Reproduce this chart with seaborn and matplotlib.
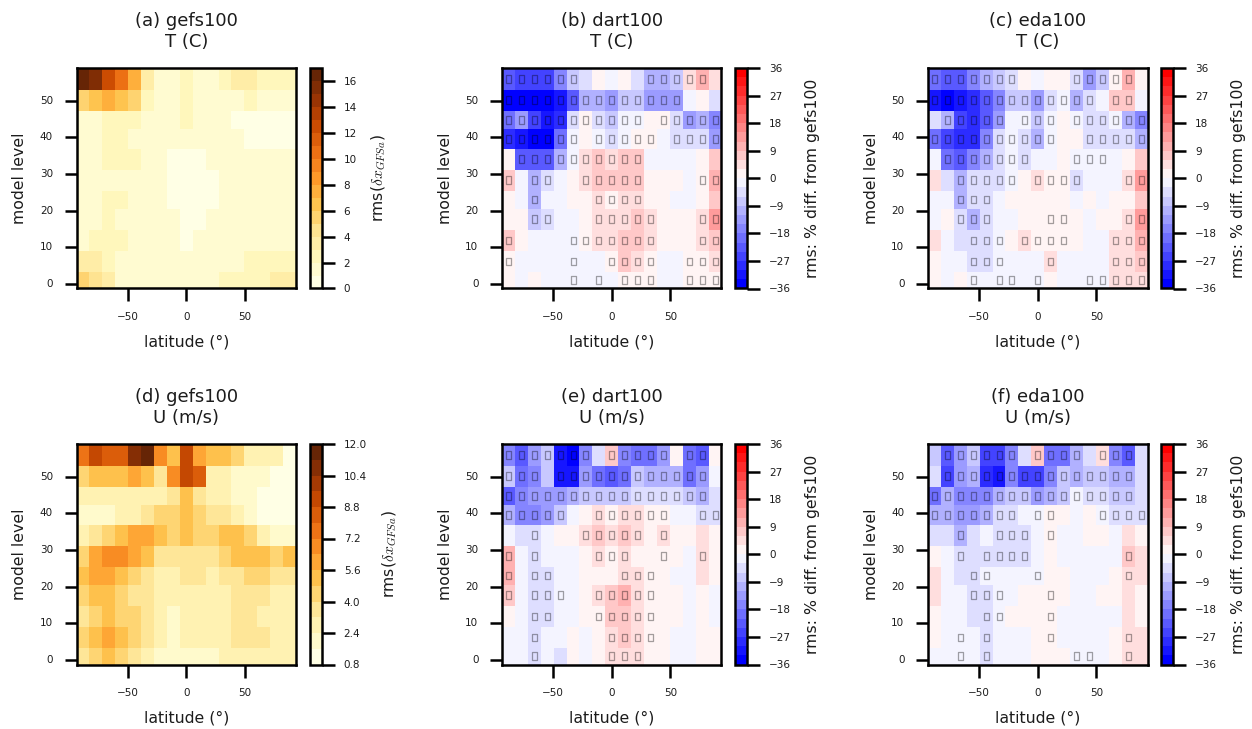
import numpy as np
import pandas as pd
import matplotlib
matplotlib.use("Agg")
import matplotlib.pyplot as plt
from matplotlib.path import Path
import seaborn as sns

sns.set_theme(style="ticks", context="notebook")
plt.rcParams.update({"mathtext.fontset": "cm", "font.family": "DejaVu Sans"})

# rows are listed from the top of the panel (highest model level) to the bottom
a_vals = [
 [16.5,15.5,12.5,10.5,7.5,3.5,1.5,1.5,2.5,1.5,1.5,2.5,3.5,3.5,2.5,2.5,2.5],
 [5.5,6.5,7.5,6.5,5.5,2.5,1.5,1.5,2.5,1.5,1.5,1.5,1.5,2.5,1.5,1.5,1.5],
 [1.5,1.5,2.5,2.5,2.5,1.5,1.5,1.5,2.5,1.5,1.5,1.5,0.5,0.5,0.5,0.5,0.5],
 [1.5,1.5,2.5,2.5,1.5,1.5,1.5,1.5,1.5,1.5,1.5,1.5,1.5,0.5,0.5,0.5,0.5],
 [1.5,1.5,2.5,2.5,2.5,1.5,1.5,0.5,0.5,0.5,1.5,1.5,1.5,1.5,1.5,1.5,1.5],
 [1.5,1.5,1.5,1.5,1.5,1.5,1.5,0.5,0.5,0.5,0.5,1.5,1.5,1.5,1.5,1.5,1.5],
 [1.5,1.5,2.5,2.5,1.5,1.5,1.5,0.5,0.5,0.5,0.5,1.5,1.5,1.5,1.5,1.5,1.5],
 [1.5,1.5,2.5,1.5,1.5,1.5,1.5,1.5,0.5,0.5,1.5,1.5,1.5,1.5,1.5,1.5,1.5],
 [1.5,2.5,2.5,2.5,1.5,1.5,1.5,1.5,0.5,1.5,1.5,1.5,1.5,1.5,1.5,1.5,1.5],
 [3.5,3.2,2.5,1.5,1.5,1.5,1.5,1.5,1.5,1.5,1.5,1.5,1.5,2.5,2.5,2.5,2.5],
 [5.5,4.5,3.2,1.5,1.5,1.5,1.5,1.5,1.5,1.5,1.5,2.5,2.5,2.5,2.5,3.2,3.2],
]
d_vals = [
 [7.6,9.2,8.4,8.4,10.8,11.6,7.0,5.2,9.2,6.0,5.2,5.2,4.4,2.8,2.8,2.8,1.2],
 [4.4,5.2,5.2,5.2,6.0,5.2,3.6,6.8,9.2,8.4,2.8,2.8,2.0,2.0,2.0,1.2,1.2],
 [2.8,2.8,2.8,2.8,2.8,2.8,2.8,3.6,5.2,3.6,2.8,2.8,2.0,2.0,1.2,1.2,1.2],
 [2.0,2.0,2.0,2.8,2.8,3.6,4.4,4.4,5.2,4.4,3.6,3.6,2.8,2.0,1.2,1.2,1.2],
 [2.8,3.6,4.4,5.2,6.0,6.0,5.2,4.4,5.2,4.4,4.4,5.2,5.2,4.4,2.8,2.0,2.0],
 [4.4,6.0,6.8,6.8,6.0,5.2,3.6,3.6,3.6,3.6,3.6,4.4,5.2,5.2,5.2,4.4,5.2],
 [5.2,6.0,6.0,5.2,4.4,3.6,2.8,2.8,3.6,3.6,2.8,3.6,3.6,4.4,4.4,3.6,3.6],
 [4.4,5.2,5.2,4.4,3.6,3.6,2.8,2.8,2.8,2.8,2.8,2.8,3.6,3.6,3.6,2.8,2.8],
 [3.6,4.4,5.2,4.4,4.4,3.6,2.8,2.0,2.8,2.8,2.8,2.8,3.6,3.6,2.8,2.8,2.8],
 [4.4,5.2,6.0,5.2,4.4,3.6,2.8,2.0,2.8,2.8,2.8,2.8,3.6,3.6,3.6,2.8,2.8],
 [3.6,4.4,5.2,4.4,3.6,2.8,2.0,2.0,2.0,2.0,2.0,2.8,2.8,2.8,2.8,2.8,2.8],
]
b_vals = [
 [-22.5,-25.5,-25.5,-25.5,-16.5,-7.5,-4.5,1.5,-1.5,1.5,-4.5,-10.5,-10.5,-7.5,4.5,10.5,4.5],
 [-34.5,-34.5,-34.5,-34.5,-31.5,-22.5,-10.5,-10.5,-13.5,-7.5,-7.5,-13.5,-13.5,-13.5,-1.5,1.5,-4.5],
 [-19.5,-13.5,-25.5,-31.5,-28.5,-4.5,1.5,-4.5,-7.5,-1.5,-1.5,1.5,1.5,-4.5,-13.5,-10.5,-16.5],
 [-28.5,-31.5,-34.5,-34.5,-19.5,-1.5,1.5,-1.5,-4.5,-1.5,1.5,1.5,-1.5,-4.5,-4.5,-4.5,-13.5],
 [1.5,-22.5,-22.5,-22.5,-10.5,-1.5,4.5,7.5,4.5,7.5,7.5,-1.5,-1.5,-1.5,-1.5,1.5,7.5],
 [7.5,-1.5,-10.5,-4.5,-1.5,1.5,4.5,7.5,7.5,7.5,7.5,1.5,1.5,1.5,-1.5,1.5,10.5],
 [1.5,-1.5,-10.5,-1.5,-1.5,1.5,1.5,4.5,1.5,4.5,4.5,1.5,1.5,-1.5,-1.5,1.5,7.5],
 [1.5,1.5,-7.5,-4.5,-1.5,-1.5,1.5,4.5,4.5,4.5,7.5,4.5,1.5,1.5,1.5,4.5,13.5],
 [7.5,1.5,-1.5,-1.5,-1.5,-1.5,1.5,4.5,4.5,7.5,7.5,4.5,1.5,1.5,1.5,4.5,7.5],
 [1.5,-1.5,-1.5,-1.5,-1.5,-1.5,-1.5,-1.5,1.5,7.5,4.5,1.5,-1.5,-1.5,1.5,1.5,4.5],
 [1.5,-1.5,1.5,-1.5,-1.5,-1.5,-1.5,-1.5,-1.5,1.5,1.5,1.5,-1.5,-1.5,1.5,1.5,1.5],
]
c_vals = [
 [-19.5,-22.5,-22.5,-16.5,-10.5,-7.5,-4.5,1.5,-1.5,1.5,1.5,-4.5,-13.5,-7.5,1.5,10.5,1.5],
 [-31.5,-34.5,-31.5,-28.5,-22.5,-16.5,-7.5,-7.5,-13.5,-4.5,-1.5,-10.5,-4.5,-1.5,7.5,7.5,-1.5],
 [-4.5,-10.5,-25.5,-28.5,-22.5,-13.5,-1.5,-1.5,-7.5,-1.5,1.5,-1.5,-4.5,-4.5,-1.5,-10.5,-16.5],
 [-19.5,-25.5,-28.5,-28.5,-16.5,-4.5,-1.5,-4.5,-10.5,-1.5,1.5,1.5,-4.5,-4.5,-4.5,-4.5,-10.5],
 [-1.5,-19.5,-22.5,-16.5,-10.5,-4.5,-1.5,-4.5,-1.5,-1.5,1.5,-1.5,-1.5,-1.5,-1.5,1.5,7.5],
 [4.5,-4.5,-10.5,-4.5,-4.5,-4.5,-1.5,1.5,4.5,1.5,1.5,-4.5,-1.5,-1.5,-1.5,4.5,13.5],
 [-1.5,-1.5,-10.5,-4.5,-4.5,-1.5,1.5,1.5,1.5,1.5,1.5,-1.5,1.5,-1.5,1.5,1.5,7.5],
 [-1.5,1.5,-4.5,-10.5,-4.5,-1.5,-1.5,1.5,1.5,1.5,1.5,1.5,-1.5,1.5,1.5,4.5,13.5],
 [4.5,-1.5,-4.5,-4.5,-4.5,-1.5,1.5,4.5,1.5,1.5,1.5,1.5,-1.5,-1.5,4.5,4.5,10.5],
 [1.5,-1.5,-1.5,-4.5,-4.5,-1.5,-1.5,-1.5,-1.5,4.5,-1.5,-1.5,-1.5,-1.5,4.5,4.5,7.5],
 [1.5,-1.5,1.5,-1.5,-1.5,-1.5,-1.5,-1.5,-1.5,1.5,-1.5,-1.5,-1.5,-1.5,4.5,4.5,4.5],
]
e_vals = [
 [-16.5,-22.5,-13.5,-7.5,-31.5,-34.5,-16.5,-4.5,7.5,-16.5,-19.5,-19.5,-13.5,1.5,-19.5,-22.5,1.5],
 [-7.5,-19.5,-16.5,-7.5,-31.5,-31.5,-13.5,-19.5,-22.5,-19.5,-7.5,-10.5,-10.5,-10.5,-19.5,-13.5,-1.5],
 [-22.5,-16.5,-13.5,-13.5,-13.5,-10.5,-7.5,-7.5,-7.5,-7.5,-4.5,-4.5,-4.5,-4.5,-7.5,-10.5,-4.5],
 [-10.5,-16.5,-16.5,-13.5,-7.5,-1.5,1.5,4.5,1.5,4.5,4.5,1.5,1.5,-1.5,-1.5,-4.5,-4.5],
 [-1.5,-4.5,-4.5,-1.5,1.5,1.5,4.5,7.5,4.5,7.5,4.5,1.5,4.5,1.5,1.5,4.5,1.5],
 [10.5,-1.5,-4.5,-1.5,-1.5,-1.5,1.5,4.5,1.5,4.5,1.5,1.5,1.5,1.5,-1.5,4.5,1.5],
 [10.5,-1.5,-4.5,-4.5,-1.5,-1.5,1.5,1.5,1.5,4.5,4.5,1.5,1.5,-1.5,-1.5,4.5,1.5],
 [7.5,-1.5,-4.5,-4.5,-1.5,-1.5,1.5,4.5,7.5,10.5,4.5,1.5,1.5,1.5,-1.5,1.5,-1.5],
 [1.5,-1.5,-4.5,-4.5,-1.5,-1.5,1.5,1.5,7.5,7.5,4.5,1.5,1.5,1.5,-1.5,1.5,-1.5],
 [-1.5,-1.5,-4.5,-1.5,-1.5,1.5,-1.5,1.5,4.5,7.5,4.5,1.5,1.5,-1.5,-1.5,1.5,1.5],
 [-1.5,-1.5,-4.5,-1.5,-4.5,1.5,-1.5,1.5,4.5,4.5,4.5,1.5,1.5,-1.5,-1.5,1.5,1.5],
]
f_vals = [
 [-7.5,-22.5,-13.5,-7.5,-25.5,-25.5,-16.5,-4.5,7.5,-19.5,-19.5,-10.5,-4.5,4.5,-16.5,-22.5,-4.5],
 [-4.5,-25.5,-13.5,-10.5,-28.5,-31.5,-16.5,-25.5,-25.5,-16.5,-7.5,-10.5,-7.5,-7.5,-10.5,-10.5,-4.5],
 [-19.5,-10.5,-16.5,-16.5,-16.5,-10.5,-7.5,-7.5,-13.5,-10.5,-7.5,-1.5,-4.5,-4.5,-7.5,-7.5,-4.5],
 [-10.5,-10.5,-13.5,-13.5,-10.5,-4.5,-4.5,-1.5,-1.5,1.5,1.5,-1.5,1.5,-1.5,-4.5,-4.5,-4.5],
 [-4.5,-4.5,-10.5,-4.5,-1.5,-4.5,-4.5,-4.5,-1.5,1.5,-1.5,-1.5,1.5,1.5,-1.5,4.5,1.5],
 [1.5,-1.5,-4.5,-4.5,-4.5,-4.5,-4.5,-4.5,-1.5,1.5,-1.5,-1.5,-1.5,-1.5,-1.5,7.5,4.5],
 [4.5,-1.5,-4.5,-4.5,-1.5,-1.5,-1.5,-1.5,-1.5,1.5,1.5,-1.5,-1.5,-1.5,1.5,4.5,4.5],
 [4.5,-1.5,-1.5,-4.5,-4.5,-1.5,-1.5,1.5,1.5,1.5,1.5,-1.5,-1.5,1.5,1.5,4.5,1.5],
 [1.5,-1.5,-1.5,-4.5,-4.5,-1.5,1.5,1.5,1.5,1.5,-1.5,-1.5,-1.5,-1.5,-1.5,4.5,1.5],
 [1.5,-1.5,-1.5,-1.5,-4.5,-1.5,-1.5,-1.5,1.5,1.5,-1.5,-1.5,-1.5,-1.5,1.5,4.5,4.5],
 [-1.5,-1.5,-1.5,-1.5,-4.5,-1.5,-1.5,-1.5,1.5,1.5,1.5,-1.5,-1.5,-1.5,1.5,4.5,4.5],
]

# column indices of the significance boxes in each row, top row first
b_sig = [[0,1,2,3,4,5,11,12,13,14,15],
         [0,1,2,3,4,5,6,7,8,9,10,11,12,13],
         [0,1,2,3,4,5,6,7,8,9,10,12,13,14,15,16],
         [0,1,2,3,4,5,7,8,9,10,11,13,14,15,16],
         [1,2,3,4,5,6,7,8,9,10],
         [0,2,3,6,7,8,9,10,15,16],
         [2,7,8,9,10],
         [2,3,7,8,9,10,11,15,16],
         [0,5,6,7,8,9,10,11,15,16],
         [0,5,8,9,10,11,14,15,16],
         [5,7,9,10,11,14,15,16]]
c_sig = [[0,1,2,3,4,5,6,11,12,13,14,15],
         [0,1,2,3,4,5,6,7,8,9,10,11,12,14,15],
         [1,2,3,4,5,7,8,9,11,12,13,14,15,16],
         [0,1,2,3,4,5,6,7,8,9,12,13,14,15,16],
         [1,2,3,4,5,6,7,11,12,13],
         [2,3,4,5,6,8,9,10,11,15,16],
         [2,3,4],
         [2,3,4,9,10,15,16],
         [3,4,5,7,8,9,10,14,15,16],
         [3,4,5,9,14,15,16],
         [3,5,6,8,12,13,14,15,16]]
e_sig = [[0,1,2,3,4,5,6,8,9,10,11,12,14,15],
         [0,1,2,4,5,6,7,8,9,10,11,12,13,14,15],
         [0,1,2,3,4,5,6,7,8,9,10,11,12,13,14,15],
         [0,1,2,3,4,7,8,9,10,11,12,15,16],
         [2,6,7,8,9,10,12],
         [0,2,7,8,9,12,15],
         [0,2,3,9,10,11],
         [0,2,3,4,7,8,9,10,11],
         [2,3,7,8,9,10,11],
         [2,8,9,10,11],
         [2,8,9,10]]
f_sig = [[1,2,3,4,5,6,8,9,10,11,13,14,15],
         [1,2,3,4,5,6,7,8,9,10,11,12,13,14,15],
         [0,1,2,3,4,5,6,7,8,9,10,11,12,13,14,15],
         [0,1,2,3,4,5,6,8,9,13,14,15,16],
         [2,5,6,7,9],
         [2,4,5,6,7,15],
         [3,4,8,15],
         [3,4,5,9],
         [4,5,9],
         [2,4,9,15],
         [2,4,11,12,15]]

titles = ["(a) gefs100\nT (C)", "(b) dart100\nT (C)", "(c) eda100\nT (C)",
          "(d) gefs100\nU (m/s)", "(e) dart100\nU (m/s)", "(f) eda100\nU (m/s)"]
lat_edge_limit = 93.5
lat_ticks = [-50, 0, 50]
lev_ticks = [0, 10, 20, 30, 40, 50]
lev_edges = [-1.2, 3.4, 9.0, 14.8, 20.6, 25.5, 31.2, 36.9, 42.3, 47.3, 53.0, 58.9]
a_ticks = [0, 2, 4, 6, 8, 10, 12, 14, 16]
d_ticks = [0.8, 2.4, 4.0, 5.6, 7.2, 8.8, 10.4, 12.0]
diff_ticks = [-36, -27, -18, -9, 0, 9, 18, 27, 36]
diff_label = "rms: % diff. from gefs100"
spread_label = r"rms($\delta x_{GFSa}$)"

W, H = 1252, 729
fig = plt.figure(figsize=(W / 100, H / 100), dpi=100, facecolor="white")

yellow17 = plt.get_cmap("YlOrBr", 17)
yellow14 = plt.get_cmap("YlOrBr", 14)
bwr24 = plt.get_cmap("bwr", 24)
box = Path([(-0.33, -0.5), (0.33, -0.5), (0.33, 0.5), (-0.33, 0.5), (-0.33, -0.5)], closed=True)

idx = np.arange(len(lev_edges), dtype=float)
to_lev = lambda v: np.interp(v, idx, lev_edges)
to_idx = lambda v: np.interp(v, lev_edges, idx)
INK = "#1c1c1c"


def panel(left, top, vals, sig, title, cmap, vmin, vmax, cticks, clabel, lpad):
    ax = fig.add_axes([left / W, 1 - (top + 220.5) / H, 219.5 / W, 220.5 / H])
    cax = fig.add_axes([(left + 233) / W, 1 - (top + 220.5) / H, 12 / W, 220.5 / H])
    df = pd.DataFrame(np.array(vals)[::-1])
    sns.heatmap(df, ax=ax, cbar_ax=cax, cmap=cmap, vmin=vmin, vmax=vmax)
    ax.set_yscale("function", functions=(to_lev, to_idx))
    ax.set_ylim(0, len(vals))
    ax.set_xlim(0, len(vals[0]))
    ax.set_xticks([(t + lat_edge_limit) / 11 for t in lat_ticks])
    ax.set_xticklabels(["\u221250", "0", "50"], rotation=0)
    ax.set_yticks(to_idx(np.array(lev_ticks, dtype=float)))
    ax.set_yticklabels([str(t) for t in lev_ticks], rotation=0)
    ax.minorticks_off()
    ax.tick_params(axis="both", which="major", length=9, width=1.8, labelsize=7.5,
                   color="black", labelcolor=INK, pad=8, left=True, bottom=True)
    for s in ax.spines.values():
        s.set_visible(True)
        s.set_linewidth(1.8)
        s.set_color("black")
    ax.set_xlabel("latitude (\u00b0)", fontsize=11.3, labelpad=9, color=INK)
    ax.set_ylabel("model level", fontsize=11.3, labelpad=9, color=INK)
    ax.set_title(title, fontsize=13, pad=15, color=INK)
    if sig is not None:
        n = len(sig)
        xs = [c + 0.5 for r, row in enumerate(sig) for c in row]
        ys = [n - r - 0.5 for r, row in enumerate(sig) for c in row]
        ax.scatter(xs, ys, marker=box, s=30, facecolors="none",
                   edgecolors=(0, 0, 0, 0.36), linewidths=0.9, zorder=5)
    cb = ax.collections[0].colorbar
    cb.outline.set_visible(True)
    cb.outline.set_linewidth(1.8)
    cb.outline.set_edgecolor("black")
    cb.set_ticks(cticks)
    if cticks is d_ticks:
        cb.set_ticklabels([f"{t:.1f}" for t in cticks])
    else:
        cb.set_ticklabels([str(t).replace("-", "\u2212") for t in cticks])
    cax.minorticks_off()
    cax.tick_params(length=9, width=1.8, labelsize=7.5, color="black",
                    labelcolor=INK, pad=7, right=True)
    cb.set_label(clabel, fontsize=11.3, labelpad=lpad, color=INK)


lefts = [76.5, 502, 928]
tops = [68, 444]
panel(lefts[0], tops[0], a_vals, None, titles[0], yellow17, 0, 17, a_ticks, spread_label, 9)
panel(lefts[1], tops[0], b_vals, b_sig, titles[1], bwr24, -36, 36, diff_ticks, diff_label, 10)
panel(lefts[2], tops[0], c_vals, c_sig, titles[2], bwr24, -36, 36, diff_ticks, diff_label, 10)
panel(lefts[0], tops[1], d_vals, None, titles[3], yellow14, 0.8, 12.0, d_ticks, spread_label, 10)
panel(lefts[1], tops[1], e_vals, e_sig, titles[4], bwr24, -36, 36, diff_ticks, diff_label, 10)
panel(lefts[2], tops[1], f_vals, f_sig, titles[5], bwr24, -36, 36, diff_ticks, diff_label, 10)

fig.savefig("out.png", dpi=100)
